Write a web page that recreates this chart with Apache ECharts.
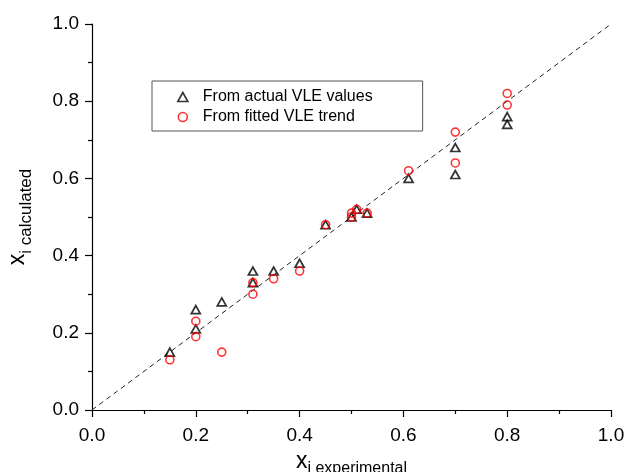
<!DOCTYPE html>
<html>
<head>
<meta charset="utf-8">
<script src="https://cdn.jsdelivr.net/npm/echarts@6/dist/echarts.min.js"></script>
<style>
html,body{margin:0;padding:0;background:#fff;}
#chart{width:628px;height:472px;}
</style>
</head>
<body>
<div id="chart"></div>
<script>
// Data
var actualX = [0.15, 0.20, 0.20, 0.25, 0.31, 0.31, 0.35, 0.40, 0.45, 0.50, 0.51, 0.53, 0.61, 0.70, 0.70, 0.80, 0.80];
var actualY = [0.15, 0.26, 0.21, 0.28, 0.36, 0.33, 0.36, 0.38, 0.48, 0.50, 0.52, 0.51, 0.60, 0.68, 0.61, 0.76, 0.74];
var fittedX = [0.15, 0.20, 0.20, 0.25, 0.31, 0.31, 0.35, 0.40, 0.45, 0.50, 0.50, 0.51, 0.53, 0.61, 0.70, 0.70, 0.80, 0.80];
var fittedY = [0.13, 0.23, 0.19, 0.15, 0.33, 0.30, 0.34, 0.36, 0.48, 0.51, 0.50, 0.52, 0.51, 0.62, 0.72, 0.64, 0.82, 0.79];
var parityX = [0, 1];
var parityY = [0, 1];
var seriesNames = ['From actual VLE values', 'From fitted VLE trend'];

function zip(xs, ys) { return xs.map(function (x, i) { return [x, ys[i]]; }); }

var FONT = '"Liberation Sans", Arial, Helvetica, sans-serif';
var chart = echarts.init(document.getElementById('chart'), null, {renderer: 'canvas'});

var axisCommon = {
  type: 'value', min: 0, max: 1, interval: 0.2,
  axisLine: {show: true, lineStyle: {color: '#000', width: 1.2}},
  axisTick: {show: true, length: 7, lineStyle: {color: '#000', width: 1.2}},
  minorTick: {show: true, splitNumber: 2, length: 4, lineStyle: {color: '#000', width: 1.2}},
  splitLine: {show: false},
  axisLabel: {color: '#000', fontSize: 19, fontFamily: FONT, margin: 13,
    formatter: function (v) { return v.toFixed(1); }},
  nameLocation: 'middle'
};

chart.setOption({
  animation: false,
  backgroundColor: '#fff',
  grid: {left: 92, right: 17, top: 24, bottom: 62, containLabel: false, outerBoundsMode: 'none'},
  xAxis: Object.assign({}, axisCommon, {
    axisLabel: Object.assign({}, axisCommon.axisLabel, {margin: 16}),
    name: '{a|x}{b|i experimental}',
    nameGap: 35,
    nameTextStyle: {fontFamily: FONT,
      rich: {
        a: {fontSize: 23, lineHeight: 24, verticalAlign: 'top', color: '#000', fontFamily: FONT},
        b: {fontSize: 16, lineHeight: 37, color: '#000', fontFamily: FONT}
      }}
  }),
  yAxis: Object.assign({}, axisCommon, {
    name: '{a|x}{b|i calculated}',
    nameGap: 46,
    nameTextStyle: {fontFamily: FONT,
      rich: {
        a: {fontSize: 23, lineHeight: 24, verticalAlign: 'top', color: '#000', fontFamily: FONT},
        b: {fontSize: 17, lineHeight: 40, color: '#000', fontFamily: FONT}
      }}
  }),
  legend: {
    orient: 'vertical', left: 152, top: 81,
    padding: [8, 50, 6, 25],
    itemWidth: 10, itemHeight: 9, itemGap: 4,
    borderColor: '#555', borderWidth: 1,
    textStyle: {fontSize: 16, lineHeight: 16, color: '#000', fontFamily: FONT, padding: [0, 0, 0, 10]},
    data: [
      {name: seriesNames[0], icon: 'triangle',
        itemStyle: {color: 'rgba(0,0,0,0)', borderColor: '#000', borderWidth: 1.6}},
      {name: seriesNames[1], icon: 'circle',
        itemStyle: {color: 'rgba(0,0,0,0)', borderColor: '#f00', borderWidth: 1.6}}
    ]
  },
  series: [
    {
      type: 'line', name: 'parity', data: zip(parityX, parityY),
      showSymbol: false, symbol: 'none', silent: true,
      lineStyle: {color: '#222', width: 1, type: [5, 4]}, z: 1
    },
    {
      type: 'scatter', name: seriesNames[0], data: zip(actualX, actualY),
      symbol: 'triangle', symbolSize: [9, 8],
      itemStyle: {color: 'rgba(0,0,0,0)', borderColor: '#000', borderWidth: 1.7}, z: 2
    },
    {
      type: 'scatter', name: seriesNames[1], data: zip(fittedX, fittedY),
      symbol: 'circle', symbolSize: 8,
      itemStyle: {color: 'rgba(0,0,0,0)', borderColor: '#f00', borderWidth: 1.6}, z: 3
    }
  ]
});
</script>
</body>
</html>
